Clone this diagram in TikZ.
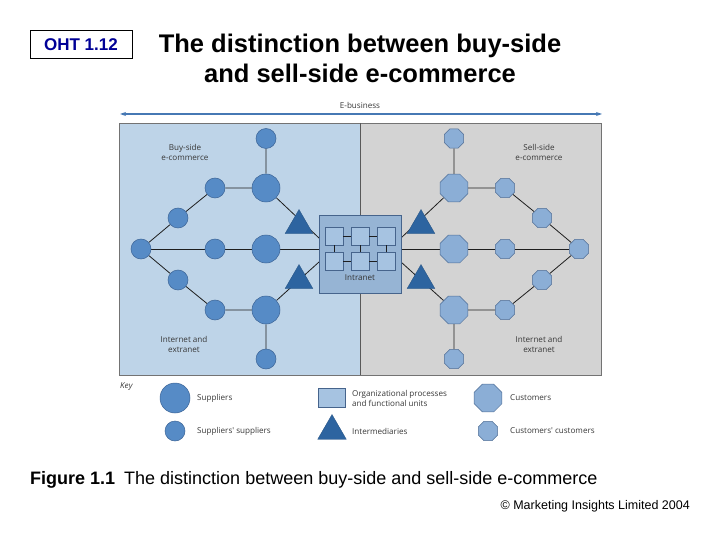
\documentclass[tikz,border=0pt]{standalone}
\usepackage{fontspec}
\setmainfont{Liberation Sans}
\newfontfamily\figfont{Open Sans}
\usetikzlibrary{shapes.geometric,arrows.meta}
\pgfdeclarelayer{back}
\pgfdeclarelayer{wires}
\pgfsetlayers{back,wires,main}
\tikzset{
  node-sup/.style={
    circle,
    draw=supline,
    fill=supblue,
    line width=0.5pt,
    minimum size=28pt,
    inner sep=0pt
  },
  node-sup-sm/.style={node-sup, minimum size=20pt},
  node-cus/.style={
    regular polygon,
    regular polygon sides=8,
    draw=cusline,
    fill=cusblue,
    line width=0.5pt,
    minimum size=30pt,
    inner sep=0pt
  },
  node-cus-sm/.style={node-cus, minimum size=21pt},
  node-tri/.style={regular polygon, regular polygon sides=3, fill=triblue, draw=triblue!80!black, line width=0.3pt, minimum size=32pt, inner sep=0pt},
  unit-box/.style={rectangle, draw=boxline, fill=unitblue, line width=0.5pt, minimum width=18pt, minimum height=18pt, inner sep=0pt},
  link/.style={line width=0.8pt, draw=linkdark},
  fig-text/.style={font=\figfont\fontsize{8.1}{10}\selectfont, text=labelgrey, align=center, inner sep=0pt},
  key-text/.style={fig-text, align=left, anchor=west}
}
\definecolor{panelblue}{RGB}{190,212,232}
\definecolor{panelgrey}{RGB}{211,211,211}
\definecolor{supblue}{RGB}{86,139,198}
\definecolor{supline}{RGB}{60,100,150}
\definecolor{cusblue}{RGB}{139,174,214}
\definecolor{cusline}{RGB}{80,110,150}
\definecolor{triblue}{RGB}{45,100,160}
\definecolor{intrablue}{RGB}{150,180,212}
\definecolor{unitblue}{RGB}{166,195,225}
\definecolor{boxline}{RGB}{70,100,140}
\definecolor{linkdark}{RGB}{30,30,30}
\definecolor{labelgrey}{RGB}{55,55,55}
\definecolor{ebizblue}{RGB}{70,120,180}
\definecolor{ohtblue}{RGB}{0,0,150}

\begin{document}
\begin{tikzpicture}[x=1pt, y=-1pt]
  \useasboundingbox (0,0) rectangle (720,540);
  % header
  \node[draw, line width=0.6pt, minimum width=102pt, minimum height=28pt, inner sep=0pt,
        text=ohtblue, font=\bfseries\fontsize{17}{19}\selectfont] (oht) at (81,44.5) {OHT 1.12};
  \node[align=center, font=\bfseries\fontsize{25.5}{30}\selectfont] (title) at (360,58)
    {The distinction between buy-side\\and sell-side e-commerce};

  % panels
  \begin{pgfonlayer}{back}
    \fill[panelblue] (119,123) rectangle (360,375);
    \fill[panelgrey] (360,123) rectangle (601,375);
    \draw[line width=0.4pt, black!55] (119,123) rectangle (601,375);
    \draw[line width=0.6pt, black!65] (360,123) -- (360,375);
  \end{pgfonlayer}

  % e-business arrow
  \coordinate (ebiz-l) at (120,114);
  \coordinate (ebiz-r) at (602,114);
  \draw[ebizblue, line width=1.2pt, {Stealth[length=6pt,width=4pt]}-{Stealth[length=6pt,width=4pt]}] (ebiz-l) -- (ebiz-r);
  \node[fig-text] (ebiz) at (360,105.5) {E-business};

  % buy side
  \node[node-sup-sm] (s-top) at (266,138.5) {};
  \node[node-sup] (s-big1) at (266,188) {};
  \node[node-sup-sm] (s-a1) at (215,188) {};
  \node[node-sup-sm] (s-a2) at (178,218) {};
  \node[node-sup-sm] (s-left) at (141,249) {};
  \node[node-sup-sm] (s-m1) at (215,249) {};
  \node[node-sup] (s-big2) at (266,249) {};
  \node[node-sup-sm] (s-b2) at (178,280) {};
  \node[node-sup-sm] (s-b1) at (215,310) {};
  \node[node-sup] (s-big3) at (266,310) {};
  \node[node-sup-sm] (s-bot) at (266,359) {};
  \node[node-tri] (tri-l1) at (299,225.5) {};
  \node[node-tri] (tri-l2) at (299,280.5) {};

  % sell side
  \node[node-cus-sm] (c-top) at (454,138.5) {};
  \node[node-cus] (c-big1) at (454,188) {};
  \node[node-cus-sm] (c-a1) at (505,188) {};
  \node[node-cus-sm] (c-a2) at (542,218) {};
  \node[node-cus-sm] (c-right) at (579,249) {};
  \node[node-cus-sm] (c-m1) at (505,249) {};
  \node[node-cus] (c-big2) at (454,249) {};
  \node[node-cus-sm] (c-b2) at (542,280) {};
  \node[node-cus-sm] (c-b1) at (505,310) {};
  \node[node-cus] (c-big3) at (454,310) {};
  \node[node-cus-sm] (c-bot) at (454,359) {};
  \node[node-tri] (tri-r1) at (421,225.5) {};
  \node[node-tri] (tri-r2) at (421,280.5) {};

  % intranet
  \node[rectangle, draw=boxline, fill=intrablue, line width=0.6pt, minimum width=82pt, minimum height=78pt] (intranet) at (360,254) {};
  \coordinate (in-l0) at (319,249);
  \coordinate (in-l1) at (319,238);
  \coordinate (in-l2) at (319,262);
  \coordinate (in-r0) at (401,249);
  \coordinate (in-r1) at (401,238);
  \coordinate (in-r2) at (401,262);
  \foreach \i/\x in {1/334,2/360,3/386} {
    \node[unit-box] (ua\i) at (\x,236) {};
    \node[unit-box] (ub\i) at (\x,261.5) {};
    \draw[line width=0.8pt, linkdark] (ua\i) -- (ub\i);
  }
  \draw[line width=0.8pt, linkdark] (ua1) -- (ua2) -- (ua3);
  \draw[line width=0.8pt, linkdark] (ub1) -- (ub2) -- (ub3);
  \node[fig-text, text=black!80] (intranet-lbl) at (360,278) {Intranet};

  % connectors
  \begin{pgfonlayer}{wires}
    \draw[link] (s-top) -- (s-big1) -- (s-a1) -- (s-a2) -- (s-left) -- (s-b2) -- (s-b1) -- (s-big3) -- (s-bot);
    \draw[link] (s-left) -- (s-m1) -- (s-big2) -- (in-l0);
    \draw[link] (in-r0) -- (c-big2) -- (c-m1) -- (c-right);
    \draw[link] (c-top) -- (c-big1) -- (c-a1) -- (c-a2) -- (c-right) -- (c-b2) -- (c-b1) -- (c-big3) -- (c-bot);
    \draw[link] (s-big1) -- (in-l1);
    \draw[link] (s-big3) -- (in-l2);
    \draw[link] (c-big1) -- (in-r1);
    \draw[link] (c-big3) -- (in-r2);
  \end{pgfonlayer}

  % labels
  \node[fig-text] (buy-lbl) at (185,152) {Buy-side\\e-commerce};
  \node[fig-text] (sell-lbl) at (539,152) {Sell-side\\e-commerce};
  \node[fig-text] (net-l) at (184,344) {Internet and\\extranet};
  \node[fig-text] (net-r) at (539,344) {Internet and\\extranet};

  % key
  \node[fig-text, anchor=west, font=\figfont\itshape\fontsize{8.1}{10}\selectfont] (key) at (120,387) {Key};
  \node[node-sup, minimum size=30pt] (key-sup) at (175,398) {};
  \node[key-text] (key-sup-txt) at (197,398) {Suppliers};
  \node[node-sup-sm] (key-sup-sm) at (175,431) {};
  \node[key-text] (key-sup-sm-txt) at (197,431) {Suppliers' suppliers};
  \node[unit-box, minimum width=27pt, minimum height=19pt] (key-unit) at (332,398) {};
  \node[key-text] (key-unit-txt) at (352,398) {Organizational processes\\and functional units};
  \node[node-tri, minimum size=33pt] (key-tri) at (332,431) {};
  \node[key-text] (key-tri-txt) at (352,431) {Intermediaries};
  \node[node-cus] (key-cus) at (488,398) {};
  \node[key-text] (key-cus-txt) at (510,398) {Customers};
  \node[node-cus-sm] (key-cus-sm) at (488,431) {};
  \node[key-text] (key-cus-sm-txt) at (510,431) {Customers' customers};

  % caption
  \node[anchor=west, inner sep=0pt, font=\fontsize{18}{21}\selectfont] (caption) at (30,480)
    {\textbf{Figure 1.1}\hspace{0.5em}The distinction between buy-side and sell-side e-commerce};
  \node[anchor=east, inner sep=0pt, font=\fontsize{12.5}{14}\selectfont] (copy) at (690,506)
    {© Marketing Insights Limited 2004};
\end{tikzpicture}
\end{document}
